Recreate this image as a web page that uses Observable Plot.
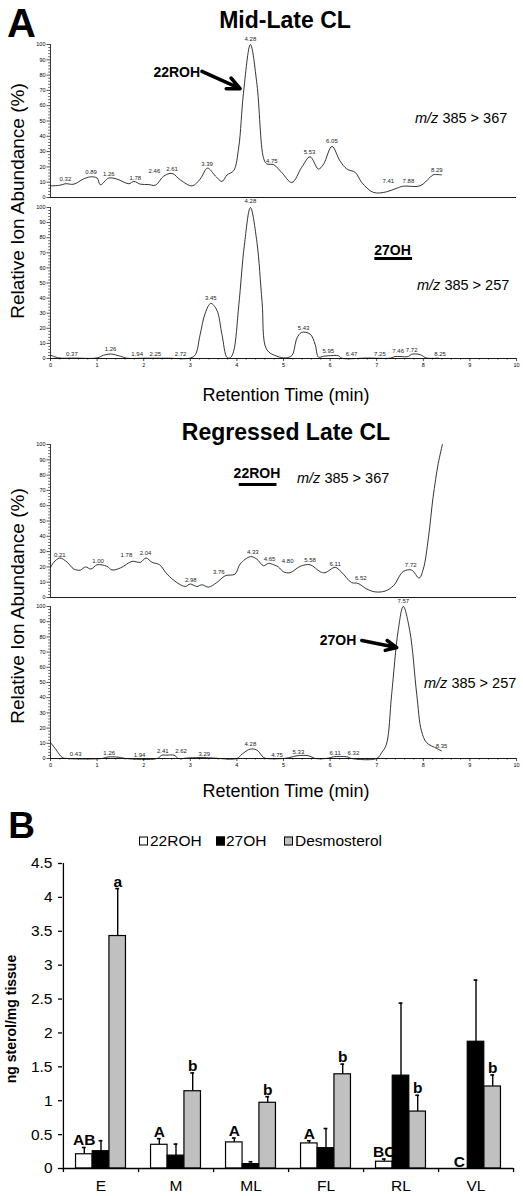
<!DOCTYPE html>
<html><head><meta charset="utf-8">
<script src="https://cdn.jsdelivr.net/npm/d3@7"></script>
<script src="https://cdn.jsdelivr.net/npm/@observablehq/plot@0.6"></script>
<style>
html,body{margin:0;padding:0;background:#fff;overflow:hidden;}
#root{position:relative;width:523px;height:1196px;font-family:"Liberation Sans",Arial,sans-serif;color:#000;}
#root svg{position:absolute;left:0;}
.t{position:absolute;transform:translate(-50%,-50%);white-space:nowrap;line-height:1;}
.l{position:absolute;transform:translate(0,-50%);white-space:nowrap;line-height:1;}
.r{position:absolute;transform:translate(-50%,-50%) rotate(-90deg);white-space:nowrap;line-height:1;}
.sw{position:absolute;width:7px;height:7px;border:1px solid #000;transform:translate(0,-50%);}
</style>
</head><body><div id="root"></div>
<script>
// ---------- Panel A data: chromatograms (retention time in min, relative abundance %) ----------
const ml367_t = [0,0.2,0.32,0.5,0.7,0.86,1.0,1.07,1.25,1.43,1.68,1.79,1.93,2.1,2.25,2.43,2.61,2.79,3.04,3.21,3.37,3.54,3.68,3.79,3.93,4.04,4.14,4.29,4.43,4.57,4.64,4.79,4.96,5.18,5.39,5.57,5.75,5.86,6.04,6.21,6.36,6.54,6.68,6.93,7.21,7.43,7.57,7.93,8.14,8.21,8.39];
const ml367_v = [7.6,8,9,8.7,12,13.5,12.7,8.3,12.7,12,9,10.5,8.7,8.5,8,14,15.7,11.4,7.6,12,19.2,14,10.5,14.8,17.5,33,68,100,74,26,22,21.4,16.4,9.8,19.7,26.6,18.6,21.8,33.4,24,18.6,16.4,9.8,3.3,3.7,6.1,7.4,7.6,13,14.8,14.8];
const ml367_lab = ["0.32","0.89","1.26","1.78","2.46","2.61","3.39","4.28","4.75","5.53","6.05","7.41","7.88","8.29"];
const ml367_labX = [0.32,0.87,1.25,1.82,2.23,2.61,3.36,4.29,4.75,5.56,6.04,7.25,7.68,8.29];
const ml367_labY = [12,16.4,15.3,13,17,18.6,21.8,103.5,24,29.5,37,11,11,18];

const ml257_t = [0,0.18,0.5,1.0,1.14,1.29,1.5,1.64,2.0,2.5,3.0,3.11,3.21,3.32,3.44,3.57,3.68,3.79,3.86,3.93,4.04,4.16,4.29,4.43,4.54,4.64,4.86,5.04,5.18,5.29,5.39,5.57,5.68,5.75,5.86,5.96,6.18,6.25,6.8,7.3,7.39,7.5,7.68,7.75,7.93,8.07,8.32];
const ml257_v = [2.2,0.4,0.3,0.4,2.2,3,1.5,0.2,0.2,0.2,0.3,2.6,15.7,30,36.5,32,15.7,0.6,0.5,4.8,35,75,100,77,37.6,5.9,1.5,0.4,2,13.6,17.3,16.2,9.2,0.9,1.5,1.8,1.8,0.2,0.3,0.3,1.3,1.3,1.3,2.8,2.6,0.3,0.3];
const ml257_lab = ["0.37","1.26","1.94","2.25","2.72","3.45","4.28","5.43","5.95","6.47","7.25","7.46","7.72","8.25"];
const ml257_labX = [0.46,1.29,1.86,2.25,2.79,3.44,4.29,5.43,5.96,6.46,7.07,7.46,7.75,8.36];
const ml257_labY = [3,6,3,3,3,40,104,20,5,3,3,5,5.5,3];

const rl367_t = [0,0.07,0.2,0.36,0.5,0.64,0.75,0.87,1.0,1.21,1.32,1.5,1.75,1.93,2.05,2.18,2.34,2.5,2.71,2.89,3.0,3.14,3.25,3.39,3.57,3.75,3.96,4.07,4.29,4.43,4.57,4.68,4.79,4.89,5.0,5.14,5.36,5.57,5.79,5.89,6.11,6.25,6.46,6.6,6.79,6.96,7.18,7.36,7.57,7.75,7.91,8.0,8.11,8.21,8.32,8.41];
const rl367_v = [19.7,23,25.8,23,18.6,17.9,20,18.6,21.4,20.4,18,19.3,23.6,23,25.8,23,21.4,15.3,9.8,7.2,8.8,7.2,8.3,6.8,9.8,14.2,15.3,21.9,26.7,25,20.8,22.3,21.4,20,16.8,16.2,20.4,21.4,16.8,16.2,19.7,16.4,9.8,9.2,5.5,3.7,4.2,7.7,17,17.9,12.7,18.6,39,65.6,87.5,100];
const rl367_lab = ["0.21","1.00","1.78","2.04","2.98","3.76","4.33","4.65","4.80","5.58","6.11","6.52","7.72"];
const rl367_labX = [0.2,1.02,1.63,2.04,3.01,3.61,4.34,4.7,5.09,5.57,6.11,6.66,7.73];
const rl367_labY = [28,23.6,28,29,11.4,16.8,29.5,25,24,24.7,22,13,21.4];

const rl257_t = [0,0.11,0.25,0.36,1.1,1.18,1.29,1.5,1.61,2.29,2.39,2.5,2.65,2.75,2.96,3.29,3.5,4.0,4.11,4.29,4.43,4.57,4.64,5.0,5.14,5.29,5.54,5.68,5.96,6.07,6.36,6.46,7.0,7.11,7.21,7.32,7.46,7.57,7.71,7.86,7.96,8.07,8.29,8.39];
const rl257_v = [10.5,6.2,0.7,0,0,0.7,1.1,0.7,0,0,2.2,2.2,2.2,0,0.4,0.6,0.3,0,2.9,6.2,5.5,0.7,0,0,0.7,1.8,1.8,0,0.2,1.1,1.1,0,0,4,9.5,42,84,100,84,42,18.2,10.5,6.6,5];
const rl257_lab = ["0.43","1.26","1.94","2.41","2.62","3.29","4.28","4.75","5.33","6.11","6.32","7.57","8.35"];
const rl257_labX = [0.54,1.26,1.91,2.41,2.8,3.3,4.29,4.86,5.32,6.11,6.5,7.57,8.39];
const rl257_labY = [3,3.5,2.4,4.6,4.6,3,9.5,2.4,4.4,3.5,3.5,103.5,8];

const chromYTicks = [0,10,20,30,40,50,60,70,80,90,100];
const chromYMinor = [2,4,6,8,12,14,16,18,22,24,26,28,32,34,36,38,42,44,46,48,52,54,56,58,62,64,66,68,72,74,76,78,82,84,86,88,92,94,96,98];
const chromXTicks = [0,1,2,3,4,5,6,7,8,9,10];
const chromXMinor = [0.2,0.4,0.6,0.8,1.2,1.4,1.6,1.8,2.2,2.4,2.6,2.8,3.2,3.4,3.6,3.8,4.2,4.4,4.6,4.8,5.2,5.4,5.6,5.8,6.2,6.4,6.6,6.8,7.2,7.4,7.6,7.8,8.2,8.4,8.6,8.8,9.2,9.4,9.6,9.8];

// ---------- Panel B data ----------
const stages = ["E","M","ML","FL","RL","VL"];
const series = ["22ROH","27OH","Desmosterol"];
const mean22ROH = [0.21,0.35,0.385,0.37,0.10,0];
const sem22ROH  = [0.10,0.09,0.065,0.04,0.04,0];
const mean27OH  = [0.255,0.19,0.065,0.30,1.37,1.87];
const sem27OH   = [0.155,0.17,0.035,0.29,1.07,0.91];
const meanDesmo = [3.43,1.14,0.97,1.39,0.84,1.21];
const semDesmo  = [0.70,0.27,0.09,0.15,0.24,0.17];
const letters22ROH = ["AB","A","A","A","BC","C"];
const lettersDesmo = ["a","b","b","b","b","b"];
const yTicksB = [0,0.5,1,1.5,2,2.5,3,3.5,4,4.5];

// ---------- helpers ----------
const root = document.getElementById("root");
function addText(cls, txt, x, y, style) {
  const d = document.createElement("div");
  d.className = cls; d.innerHTML = txt;
  d.style.left = x + "px"; d.style.top = y + "px";
  Object.assign(d.style, style || {});
  root.appendChild(d);
}
function place(svg, top) { svg.style.top = top + "px"; root.appendChild(svg); }

function chrom(o) {
  const mt = o.y100 - o.top;
  const fh = o.y0 - o.y100;
  const mb = o.showX ? 20 : 4;
  const pts = o.t.map((x, i) => ({t: x, v: o.v[i]}));
  const labels = o.lab.map((s, i) => ({s, x: o.labX[i], y: o.labY[i]}));
  const marks = [
    Plot.ruleY([0], {stroke: "#000", strokeWidth: 0.9}),
    Plot.ruleX([0], {y1: 0, y2: 100, stroke: "#000", strokeWidth: 0.8}),
    Plot.axisY({ticks: chromYTicks, tickSize: 3.5, tickPadding: 1.5, fontSize: 5.5, tickFormat: d => String(d), label: null, strokeWidth: 0.7}),
    Plot.axisY({ticks: chromYMinor, tickSize: 1.8, tickFormat: () => "", label: null, strokeWidth: 0.6}),
    Plot.line(pts, {x: "t", y: "v", curve: "catmull-rom", stroke: "#111", strokeWidth: 0.85}),
    Plot.text(labels, {x: "x", y: "y", text: "s", fontSize: 6, fill: "#222"})
  ];
  if (o.showX) {
    marks.push(Plot.axisX({ticks: chromXTicks, tickSize: 3, tickPadding: 1.5, fontSize: 5.5, tickFormat: d => String(d), label: null, strokeWidth: 0.7}));
    marks.push(Plot.axisX({ticks: chromXMinor, tickSize: 1.6, tickFormat: () => "", label: null, strokeWidth: 0.6}));
  } else {
    marks.push(Plot.axisX({ticks: [], label: null}));
  }
  marks.push(...(o.extra || []));
  return Plot.plot({
    width: 523, height: mt + fh + mb,
    marginLeft: 50, marginRight: 7, marginTop: mt, marginBottom: mb,
    x: {domain: [0, 10]}, y: {domain: [0, 100]},
    style: {background: "transparent", overflow: "visible", fontFamily: "'Liberation Sans', Arial, sans-serif"},
    marks
  });
}

// ---------- Panel A ----------
addText("t", "A", 21.5, 23, {fontSize: "40px", fontWeight: "bold"});
addText("t", "Mid-Late CL", 285, 20, {fontSize: "23px", fontWeight: "bold"});

place(chrom({t: ml367_t, v: ml367_v, lab: ml367_lab, labX: ml367_labX, labY: ml367_labY,
  top: 30, y100: 44, y0: 197, showX: false,
  extra: [
    Plot.text(["22ROH"], {x: 2.71, y: 81.7, text: d => d, fontSize: 14, fontWeight: "bold"}),
    Plot.arrow([0], {x1: 3.25, y1: 82.4, x2: 4.07, y2: 71.2, strokeWidth: 3.5, headLength: 9, headAngle: 50, stroke: "#000"})
  ]}), 30);

place(chrom({t: ml257_t, v: ml257_v, lab: ml257_lab, labX: ml257_labX, labY: ml257_labY,
  top: 190, y100: 207, y0: 358, showX: true,
  extra: [
    Plot.text(["27OH"], {x: 7.34, y: 71.5, text: d => d, fontSize: 14, fontWeight: "bold"}),
    Plot.ruleY([66.2], {x1: 6.96, x2: 7.77, strokeWidth: 3, stroke: "#000"})
  ]}), 190);

addText("r", "Relative Ion Abundance (%)", 17, 201, {fontSize: "19px"});
addText("l", "<i>m/z</i> 385 &gt; 367", 415, 118, {fontSize: "14.5px"});
addText("l", "<i>m/z</i> 385 &gt; 257", 417, 285, {fontSize: "14.5px"});
addText("t", "Retention Time (min)", 286, 395, {fontSize: "18px"});

addText("t", "Regressed Late CL", 286, 432, {fontSize: "23px", fontWeight: "bold"});

place(chrom({t: rl367_t, v: rl367_v, lab: rl367_lab, labX: rl367_labX, labY: rl367_labY,
  top: 425, y100: 444, y0: 597, showX: false,
  extra: [
    Plot.text(["22ROH"], {x: 4.43, y: 81, text: d => d, fontSize: 14, fontWeight: "bold"}),
    Plot.ruleY([73.9], {x1: 4.05, x2: 4.86, strokeWidth: 3, stroke: "#000"})
  ]}), 425);

place(chrom({t: rl257_t, v: rl257_v, lab: rl257_lab, labX: rl257_labX, labY: rl257_labY,
  top: 592, y100: 606, y0: 758, showX: true,
  extra: [
    Plot.text(["27OH"], {x: 6.17, y: 77.6, text: d => d, fontSize: 14, fontWeight: "bold"}),
    Plot.arrow([0], {x1: 6.68, y1: 77.6, x2: 7.43, y2: 73, strokeWidth: 3.5, headLength: 9, headAngle: 50, stroke: "#000"})
  ]}), 592);

addText("r", "Relative Ion Abundance (%)", 17, 606, {fontSize: "19px"});
addText("l", "<i>m/z</i> 385 &gt; 367", 297, 478, {fontSize: "14.5px"});
addText("l", "<i>m/z</i> 385 &gt; 257", 424, 683, {fontSize: "14.5px"});
addText("t", "Retention Time (min)", 286, 791, {fontSize: "18px"});

// ---------- Panel B ----------
addText("t", "B", 21.5, 825, {fontSize: "37px", fontWeight: "bold"});
const legY = 841;
const fills = ["#ffffff", "#000000", "#c0c0c0"];
const legX = [[139, 150], [216, 226], [284, 295]];
series.forEach((s, i) => {
  const sw = document.createElement("div");
  sw.className = "sw"; sw.style.left = legX[i][0] + "px"; sw.style.top = legY + "px"; sw.style.background = fills[i];
  root.appendChild(sw);
  addText("l", s, legX[i][1], legY, {fontSize: "15.5px"});
});
addText("r", "ng sterol/mg tissue", 11, 1019, {fontSize: "14px", fontWeight: "bold"});

const rows22 = stages.map((c, i) => ({cat: c, mean: mean22ROH[i], sem: sem22ROH[i], let: letters22ROH[i]}));
const rows27 = stages.map((c, i) => ({cat: c, mean: mean27OH[i], sem: sem27OH[i]}));
const rowsD  = stages.map((c, i) => ({cat: c, mean: meanDesmo[i], sem: semDesmo[i], let: lettersDesmo[i]}));
const bw = 16.7;
const bandW = (513 - 62) / 6;
const inset = (bandW - bw) / 2;
const capInset = (bandW - 4) / 2;
function barSet(rows, dx, fill) {
  const withErr = rows.filter(d => d.sem > 0);
  return [
    Plot.ruleX(withErr, {x: "cat", y1: "mean", y2: d => d.mean + d.sem, dx, stroke: "#000", strokeWidth: 1.4}),
    Plot.tickY(withErr, {x: "cat", y: d => d.mean + d.sem, dx, insetLeft: capInset, insetRight: capInset, stroke: "#000", strokeWidth: 1.6}),
    Plot.barY(rows.filter(d => d.mean > 0), {x: "cat", y: "mean", dx, insetLeft: inset, insetRight: inset, fill, stroke: "#000", strokeWidth: 1.2})
  ];
}
const plotB = Plot.plot({
  width: 523, height: 343,
  marginLeft: 62, marginRight: 10, marginTop: 10, marginBottom: 28,
  x: {type: "band", domain: stages, padding: 0},
  y: {domain: [0, 4.5]},
  style: {background: "transparent", overflow: "visible", fontFamily: "'Liberation Sans', Arial, sans-serif"},
  marks: [
    ...barSet(rows22, -bw, fills[0]),
    ...barSet(rows27, 0, fills[1]),
    ...barSet(rowsD, bw, fills[2]),
    Plot.ruleY([0], {stroke: "#000", strokeWidth: 1.3}),
    Plot.ruleX(["E"], {x: d => d, dx: -bandW / 2, y1: -0.06, y2: 4.5, stroke: "#000", strokeWidth: 1.3}),
    Plot.ruleX(stages, {x: d => d, dx: bandW / 2, y1: -0.06, y2: 0, stroke: "#000", strokeWidth: 1.3}),
    Plot.axisY({ticks: yTicksB, tickSize: 4, tickPadding: 6, fontSize: 15.5, tickFormat: d => String(d), label: null, strokeWidth: 1.3}),
    Plot.axisX({tickSize: 0, tickPadding: 11, fontSize: 15.5, label: null}),
    Plot.text(rows22, {x: "cat", y: d => d.mean + d.sem, text: "let", dx: -bw, dy: -2, lineAnchor: "bottom", fontSize: 15.5, fontWeight: "bold"}),
    Plot.text(rowsD, {x: "cat", y: d => d.mean + d.sem, text: "let", dx: bw, dy: -2, lineAnchor: "bottom", fontSize: 15.5, fontWeight: "bold"})
  ]
});
place(plotB, 853);
</script>
</body></html>
